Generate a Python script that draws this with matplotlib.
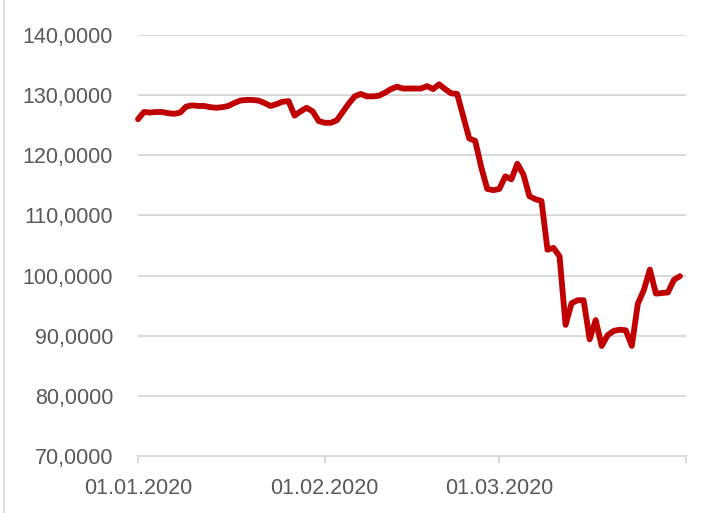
import numpy as np
import pandas as pd
import matplotlib
matplotlib.use("Agg")
import matplotlib.pyplot as plt
import matplotlib.dates as mdates
from matplotlib.ticker import FuncFormatter

# daily values 01.01.2020 - 31.03.2020
dates = pd.date_range("2020-01-01", "2020-03-31", freq="D")
values = [
    126.0, 127.2, 127.1, 127.2, 127.2, 127.0, 126.9, 127.1, 128.1, 128.3,
    128.2, 128.2, 128.0, 127.9, 128.0, 128.2, 128.7, 129.1, 129.2, 129.2,
    129.1, 128.7, 128.2, 128.5, 128.9, 129.0, 126.6, 127.3, 127.9, 127.3,
    125.7, 125.4, 125.4, 125.8, 127.2, 128.6, 129.8, 130.2, 129.8, 129.8,
    129.9, 130.4, 131.0, 131.4, 131.1, 131.1, 131.1, 131.1, 131.5, 131.0,
    131.8, 131.0, 130.3, 130.2, 126.5, 122.8, 122.4, 118.0, 114.4, 114.2,
    114.4, 116.5, 116.0, 118.6, 116.8, 113.2, 112.7, 112.4, 104.3, 104.6,
    103.2, 91.8, 95.4, 95.9, 95.9, 89.4, 92.6, 88.3, 90.1, 90.8,
    91.0, 90.9, 88.3, 95.3, 97.6, 101.0, 97.0, 97.1, 97.2, 99.3,
    99.9,
]
tick_dates = pd.to_datetime(["2020-01-01", "2020-02-01", "2020-03-01", "2020-04-01"])
tick_labels = ["01.01.2020", "01.02.2020", "01.03.2020", ""]
y_ticks = [70, 80, 90, 100, 110, 120, 130, 140]

text_color = "#595959"
plt.rcParams["font.family"] = ["Liberation Sans", "DejaVu Sans"]

fig = plt.figure(figsize=(7.06, 5.13), dpi=100)
ax = fig.add_axes([138 / 706, 1 - 456 / 513, 548 / 706, 421 / 513])

ax.plot(dates, values, color="#C00000", linewidth=4.2, solid_joinstyle="round",
        solid_capstyle="round", zorder=3, clip_on=False)

ax.set_xlim(tick_dates[0], tick_dates[-1])
ax.set_ylim(70, 140)
ax.set_yticks(y_ticks)
ax.yaxis.set_major_formatter(FuncFormatter(lambda v, p: f"{v:.4f}".replace(".", ",")))
ax.set_xticks(tick_dates)
ax.set_xticklabels(tick_labels)

ax.grid(axis="y", color="#D9D9D9", linewidth=1.4, zorder=0)
ax.set_axisbelow(True)
for s in ["top", "right", "left"]:
    ax.spines[s].set_visible(False)
ax.spines["bottom"].set_color("#D9D9D9")
ax.spines["bottom"].set_linewidth(1.4)

ax.tick_params(axis="y", length=0, pad=18, labelsize=15.5, labelcolor=text_color)
ax.tick_params(axis="x", length=5, width=1.4, color="#D9D9D9", pad=11,
               labelsize=15.5, labelcolor=text_color)

# chart frame edge on the left
fig.add_artist(plt.Line2D([0.006, 0.006], [0, 1], color="#D9D9D9", linewidth=1.2))

fig.savefig("out.png", dpi=100)
